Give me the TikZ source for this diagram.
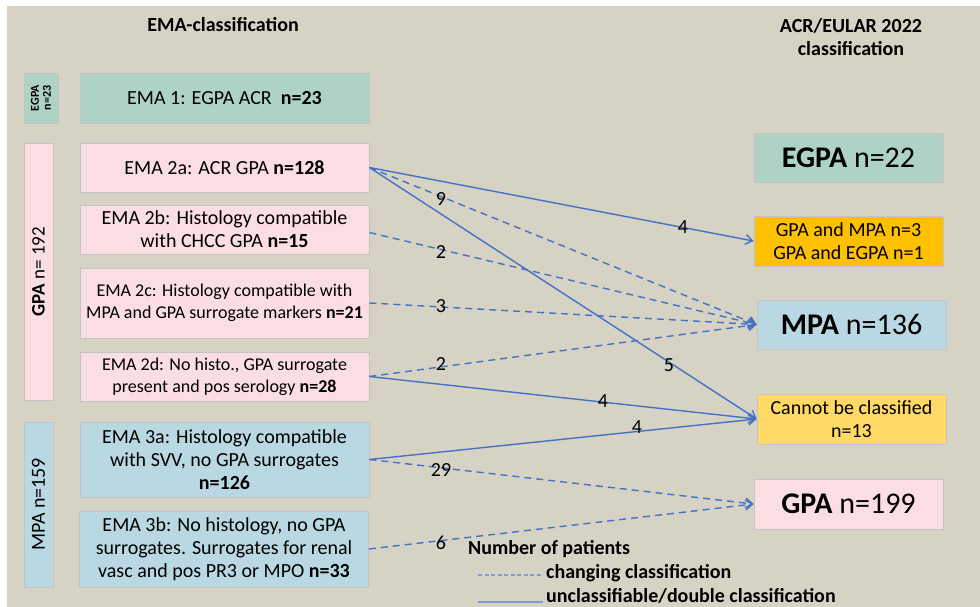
\documentclass[tikz,border=0pt]{standalone}
\usepackage{fontspec}
\setmainfont{Carlito}
\usetikzlibrary{arrows.meta}
\definecolor{bg}{HTML}{D6D3C4}
\definecolor{cgreen}{HTML}{AED3C4}
\definecolor{cpink}{HTML}{FBDEE2}
\definecolor{cblue}{HTML}{B9D8E1}
\definecolor{corange}{HTML}{FFC000}
\definecolor{cyellow}{HTML}{FFD966}
\definecolor{cline}{HTML}{4472C4}
\definecolor{clight}{HTML}{7F9ED6}
\definecolor{cborder}{HTML}{C4C4C4}
\begin{document}
\begin{tikzpicture}[x=1pt,y=-1pt,
 box/.style={draw=cborder, line width=0.8pt, inner sep=0pt, align=center, font=\fontsize{20}{23}\selectfont},
 smallbox/.style={box, font=\fontsize{18}{22}\selectfont},
 bigbox/.style={box, minimum width=189pt, minimum height=49pt, font=\fontsize{30}{36}\selectfont},
 rbox/.style={box, minimum width=189pt, minimum height=50pt},
 lbox/.style={box, minimum width=289pt},
 conn/.style={draw=cline, line width=1.4pt, -{Straight Barb[length=7pt,width=10pt]}},
 dconn/.style={conn, dash pattern=on 7pt off 5pt},
 lbl/.style={font=\fontsize{20}{24}\selectfont, inner sep=0pt, text=black},
 head/.style={font=\fontsize{20}{23}\selectfont\bfseries, align=center, inner sep=0pt},
 legtext/.style={anchor=base west, inner sep=0pt, font=\fontsize{20}{23}\selectfont\bfseries}
]
\useasboundingbox (0,0) rectangle (980,607);
\fill[white] (0,0) rectangle (980,607);
\fill[bg] (7,6) rectangle (980,607);

% headers
\node[head] (h1) at (223,25) {EMA-classification};
\node[head] (h2) at (851,37) {ACR/EULAR 2022\\classification};

% side boxes
\node[box, fill=cgreen, rotate=90, minimum width=50pt, minimum height=34pt, font=\fontsize{12}{12}\selectfont\bfseries] (segpa) at (41,98) {EGPA\\n=23};
\node[box, fill=cpink, rotate=90, minimum width=257pt, minimum height=29pt, font=\fontsize{19}{22}\selectfont] (sgpa) at (38.5,271.5) {\textbf{GPA} n= 192};
\node[box, fill=cblue, rotate=90, minimum width=165pt, minimum height=29pt] (smpa) at (38.5,504.5) {MPA n=159};

% left boxes
\node[lbox, fill=cgreen, minimum height=50pt] (ema1) at (224.5,98) {EMA 1: EGPA ACR\ \ \textbf{n=23}};
\node[lbox, fill=cpink, minimum height=49pt] (ema2a) at (224.5,167.5) {EMA 2a: ACR GPA \textbf{n=128}};
\node[lbox, fill=cpink, minimum height=49pt] (ema2b) at (224.5,229.5) {EMA 2b: Histology compatible\\with CHCC GPA \textbf{n=15}};
\node[lbox, smallbox, fill=cpink, minimum height=70pt] (ema2c) at (224.5,303) {EMA 2c: Histology compatible with\\MPA and GPA surrogate markers \textbf{n=21}};
\node[lbox, smallbox, fill=cpink, minimum height=49pt] (ema2d) at (224.5,376.5) {EMA 2d: No histo., GPA surrogate\\present and pos serology \textbf{n=28}};
\node[lbox, fill=cblue, minimum height=75pt] (ema3a) at (224.5,459.5) {EMA 3a: Histology compatible\\with SVV, no GPA surrogates\\\textbf{n=126}};
\node[lbox, fill=cblue, minimum height=76pt] (ema3b) at (224,549) {EMA 3b: No histology, no GPA\\surrogates. Surrogates for renal\\vasc and pos PR3 or MPO \textbf{n=33}};

% right boxes
\node[bigbox, fill=cgreen] (egpa) at (848.5,157.5) {\textbf{EGPA} n=22};
\node[rbox, fill=corange] (double) at (848.5,241) {GPA and MPA n=3\\GPA and EGPA n=1};
\node[bigbox, fill=cblue] (mpa) at (851.5,324.5) {\textbf{MPA} n=136};
\node[rbox, fill=cyellow] (cannot) at (851.5,419) {Cannot be classified\\n=13};
\node[bigbox, fill=cpink, minimum height=50pt] (gpa) at (848.5,504) {\textbf{GPA} n=199};

% connectors
\draw[conn] (ema2a.east) -- (double.west);
\draw[conn] (ema2a.east) -- (cannot.west);
\draw[conn] (ema2d.east) -- (cannot.west);
\draw[conn] (ema3a.east) -- (cannot.west);
\draw[dconn] (ema2a.east) -- (mpa.west);
\draw[dconn] ([yshift=-3pt]ema2b.east) -- (mpa.west);
\draw[dconn] (ema2c.east) -- (mpa.west);
\draw[dconn] (ema2d.east) -- (mpa.west);
\draw[dconn] (ema3a.east) -- (gpa.west);
\draw[dconn] (ema3b.east) -- (gpa.west);

% labels
\node[lbl] (l9) at (441,199) {9};
\node[lbl] (l4a) at (683,227) {4};
\node[lbl] (l2a) at (441,252) {2};
\node[lbl] (l3) at (441,306) {3};
\node[lbl] (l2b) at (441,364) {2};
\node[lbl] (l5) at (669,365) {5};
\node[lbl] (l4b) at (603,401) {4};
\node[lbl] (l4c) at (637,427) {4};
\node[lbl] (l29) at (441,470) {29};
\node[lbl] (l6) at (441,543) {6};

% legend
\node[legtext] (lg) at (468,554) {Number of patients};
\node[legtext] (lgd) at (546,578) {changing classification};
\node[legtext] (lgs) at (546,602) {unclassifiable/double classification};
\coordinate (d1) at (478,575);
\coordinate (s1) at (478,602);
\draw[draw=clight, line width=1.2pt, dash pattern=on 4pt off 2.5pt] (d1) -- ([xshift=-3pt]lgd.west |- d1);
\draw[draw=clight, line width=1.2pt] (s1) -- ([xshift=-3pt]lgs.west |- s1);
\end{tikzpicture}
\end{document}
